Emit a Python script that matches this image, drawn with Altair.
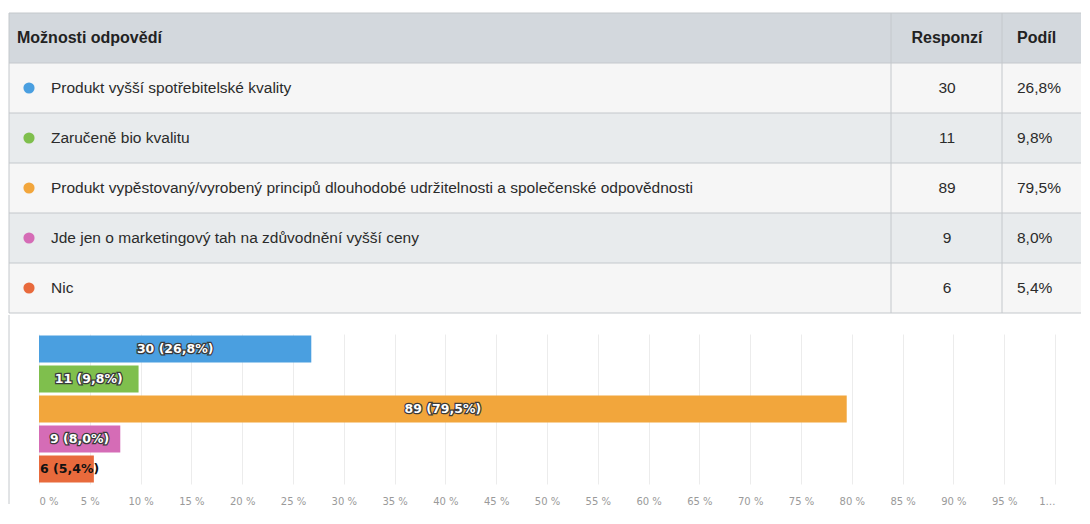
import altair as alt
import pandas as pd

options = [
    "Produkt vyšší spotřebitelské kvality",
    "Zaručeně bio kvalitu",
    "Produkt vypěstovaný/vyrobený principů dlouhodobé udržitelnosti a společenské odpovědnosti",
    "Jde jen o marketingový tah na zdůvodnění vyšší ceny",
    "Nic",
]
counts = [30, 11, 89, 9, 6]
shares = [26.8, 9.8, 79.5, 8.0, 5.4]
colors = ["#4a9fe0", "#7fbf4d", "#f2a63c", "#d56cb6", "#e86a3c"]
headers = ["Možnosti odpovědí", "Responzí", "Podíl"]
x_ticks = list(range(0, 101, 5))

FONT = "'Liberation Sans', Arial, sans-serif"
BARFONT = "'DejaVu Sans', Verdana, sans-serif"

share_txt = [f"{s:.1f}%".replace(".", ",") for s in shares]
bar_lbl = [f"{c} ({s:.1f}%)".replace(".", ",") for c, s in zip(counts, shares)]

rows = pd.DataFrame({
    "row": list(range(1, 6)),
    "option": options,
    "count": counts,
    "share_txt": share_txt,
})
bg = pd.DataFrame({
    "row": list(range(0, 6)),
    "bg": ["#d3d8dd", "#f6f6f6", "#e8ebed", "#f6f6f6", "#e8ebed", "#f6f6f6"],
})
head = pd.DataFrame({"row": [0], "h1": [headers[0]], "h2": [headers[1]], "h3": [headers[2]]})

TW = 1042
TH = 300
L = -30
yscale = alt.Scale(domain=list(range(0, 6)), paddingInner=0, paddingOuter=0)
Yrow = alt.Y("row:O", scale=yscale, axis=None)
cscale = alt.Scale(domain=options, range=colors)
LINE = "#c4c8cc"

bg_layer = alt.Chart(bg).mark_rect().encode(
    y=Yrow, x=alt.value(L), x2=alt.value(TW),
    fill=alt.Fill("bg:N", scale=None),
)
hlines = alt.Chart(bg).mark_rule(color=LINE, strokeWidth=1).encode(
    y=alt.Y("row:O", scale=yscale, axis=None, bandPosition=0),
    x=alt.value(L), x2=alt.value(TW),
)
bottom_line = alt.Chart(head).mark_rule(color=LINE, strokeWidth=1).encode(
    y=alt.value(TH), x=alt.value(L), x2=alt.value(TW),
)
vlines = alt.Chart(pd.DataFrame({"xpos": [L, 852, 963]})).mark_rule(
    color=LINE, strokeWidth=1
).encode(x=alt.X("xpos:Q", scale=None), y=alt.value(0), y2=alt.value(TH))

dots = alt.Chart(rows).mark_circle(size=125, opacity=1).encode(
    y=Yrow, x=alt.value(-10),
    color=alt.Color("option:N", scale=cscale, legend=None),
)
opt_text = alt.Chart(rows).mark_text(
    align="left", baseline="middle", font=FONT, fontSize=15.5, color="#2b2b2b"
).encode(y=Yrow, x=alt.value(12), text="option:N")
cnt_text = alt.Chart(rows).mark_text(
    align="center", baseline="middle", font=FONT, fontSize=15.5, color="#2b2b2b"
).encode(y=Yrow, x=alt.value(908), text="count:Q")
shr_text = alt.Chart(rows).mark_text(
    align="left", baseline="middle", font=FONT, fontSize=15.5, color="#2b2b2b"
).encode(y=Yrow, x=alt.value(978), text="share_txt:N")

hdr = dict(baseline="middle", font=FONT, fontSize=16, fontWeight="bold", color="#222")
h1 = alt.Chart(head).mark_text(align="left", **hdr).encode(y=Yrow, x=alt.value(-22), text="h1:N")
h2 = alt.Chart(head).mark_text(align="center", **hdr).encode(y=Yrow, x=alt.value(908), text="h2:N")
h3 = alt.Chart(head).mark_text(align="left", **hdr).encode(y=Yrow, x=alt.value(978), text="h3:N")

table = alt.layer(
    bg_layer, hlines, bottom_line, vlines, dots, opt_text, cnt_text, shr_text, h1, h2, h3
).properties(width=TW, height=TH)

# ---- bar chart ----
bars_df = pd.DataFrame({"option": options, "pct": shares, "label": bar_lbl})
BW = 1016
BH = 150
Ybar = alt.Y(
    "option:N", sort=options,
    scale=alt.Scale(paddingInner=0.1, paddingOuter=0.05),
    axis=None,
)
Xbar = alt.X(
    "pct:Q",
    scale=alt.Scale(domain=[0, 100], nice=False),
    axis=alt.Axis(
        values=x_ticks, title=None, domain=False, ticks=False, grid=True,
        gridColor="#ececec", labelColor="#9a9a9a", labelFontSize=10,
        labelFont=BARFONT, labelPadding=12,
        labelExpr="datum.value == 100 ? '1…' : datum.value + ' %'",
    ),
)
bars = alt.Chart(bars_df).mark_bar(opacity=1).encode(
    y=Ybar, x=Xbar,
    color=alt.Color("option:N", scale=cscale, legend=None),
)
lbl = dict(baseline="middle", font=BARFONT, fontSize=12.5, fontWeight="bold")
base_t = alt.Chart(bars_df).transform_calculate(mid="datum.pct / 2")
halo = base_t.transform_filter("datum.pct >= 6").mark_text(
    align="center", stroke="#3a3a3a", strokeWidth=2.5, fill="#3a3a3a", **lbl
).encode(y=alt.Y("option:N", sort=options), x=alt.X("mid:Q"), text="label:N")
white = base_t.transform_filter("datum.pct >= 6").mark_text(
    align="center", fill="white", **lbl
).encode(y=alt.Y("option:N", sort=options), x=alt.X("mid:Q"), text="label:N")
small = alt.Chart(bars_df).transform_filter("datum.pct < 6").transform_calculate(
    zero="0"
).mark_text(align="left", fill="#111", dx=1, **lbl).encode(
    y=alt.Y("option:N", sort=options), x=alt.X("zero:Q"), text="label:N"
)
left_border = alt.Chart(head).mark_rule(color=LINE, strokeWidth=1).encode(
    x=alt.value(L), y=alt.value(-19), y2=alt.value(BH + 20)
)

barchart = alt.layer(bars, halo, white, small, left_border).properties(width=BW, height=BH)

chart = alt.vconcat(table, barchart, spacing=0).configure(
    padding={"left": 0, "top": 4, "right": 0, "bottom": 0},
    background="white",
).configure_view(stroke=None)

chart.save("out.html", embed_options={"renderer": "svg", "actions": False})
